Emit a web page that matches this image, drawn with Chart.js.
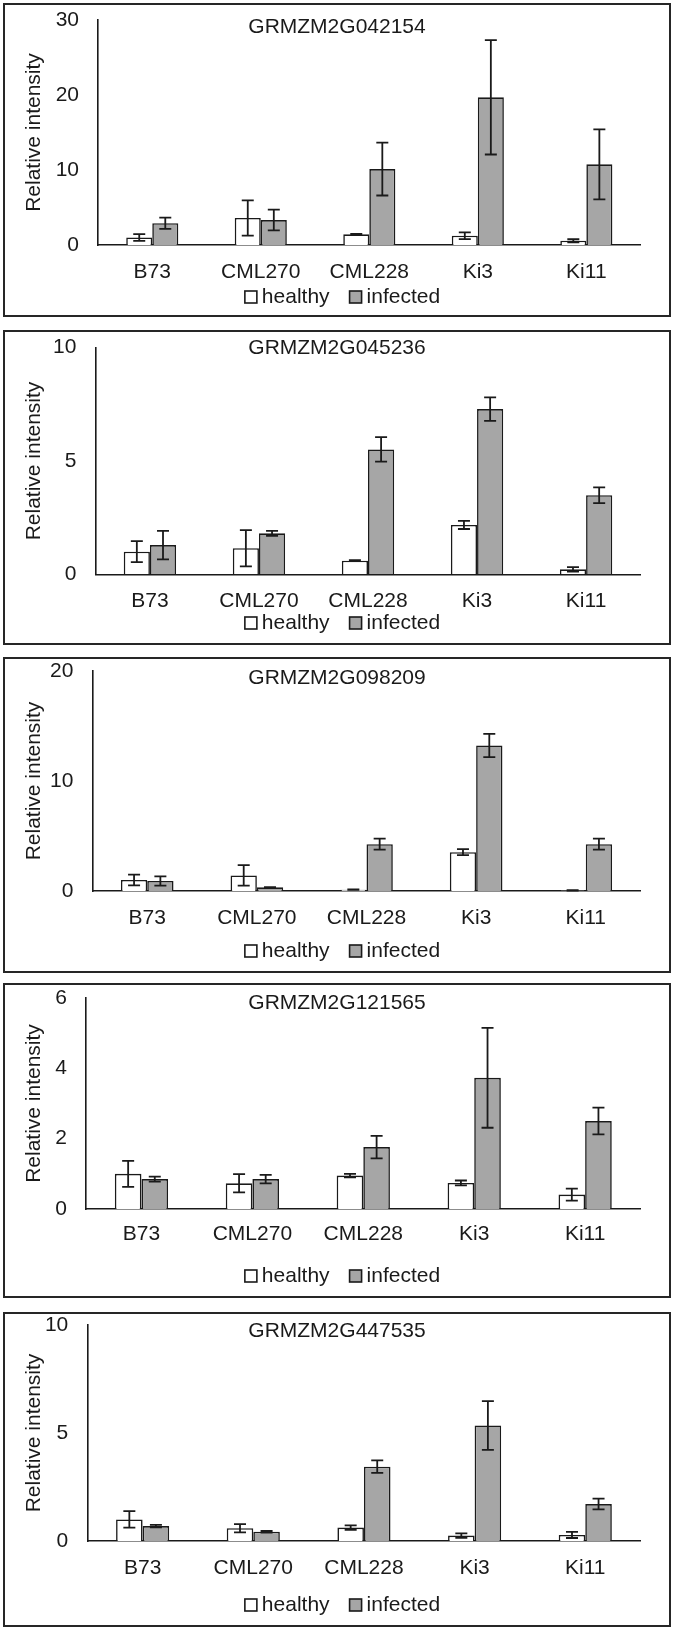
<!DOCTYPE html>
<html>
<head>
<meta charset="utf-8">
<title>Relative intensity</title>
<script src="https://cdn.jsdelivr.net/npm/chart.js@4.4.1/dist/chart.umd.min.js"></script>
<style>
  body { margin: 0; background: #fff; }
  #page { position: relative; width: 674px; height: 1630px; }
  .panel { position: absolute; left: 3px; width: 664px; border: 2px solid #262626; background: #fff; }
  .panel canvas { display: block; }
</style>
</head>
<body>
<div id="page"></div>
<script>
const categories = ['B73', 'CML270', 'CML228', 'Ki3', 'Ki11'];
const seriesNames = ['healthy', 'infected'];
const geneIds = ['GRMZM2G042154', 'GRMZM2G045236', 'GRMZM2G098209', 'GRMZM2G121565', 'GRMZM2G447535'];
const yMaxValues = [30, 10, 20, 6, 10];
const yStepValues = [10, 5, 10, 2, 5];

// GRMZM2G042154
const healthy042154 = [1.0, 3.6, 1.42, 1.24, 0.57];
const healthyErr042154 = [0.45, 2.36, 0.05, 0.45, 0.2];
const infected042154 = [2.9, 3.33, 10.13, 19.69, 10.76];
const infectedErr042154 = [0.75, 1.38, 3.53, 7.62, 4.67];

// GRMZM2G045236
const healthy045236 = [1.0, 1.15, 0.6, 2.18, 0.22];
const healthyErr045236 = [0.46, 0.8, 0.02, 0.18, 0.1];
const infected045236 = [1.29, 1.81, 5.51, 7.29, 3.49];
const infectedErr045236 = [0.63, 0.11, 0.54, 0.52, 0.35];

// GRMZM2G098209
const healthy098209 = [1.0, 1.42, 0.12, 3.53, 0.06];
const healthyErr098209 = [0.48, 0.94, 0.02, 0.27, 0.02];
const infected098209 = [0.91, 0.33, 4.26, 13.23, 4.26];
const infectedErr098209 = [0.42, 0.02, 0.5, 1.06, 0.5];

// GRMZM2G121565
const healthy121565 = [1.0, 0.73, 0.95, 0.74, 0.41];
const healthyErr121565 = [0.37, 0.26, 0.05, 0.07, 0.17];
const infected121565 = [0.85, 0.85, 1.76, 3.73, 2.5];
const infectedErr121565 = [0.07, 0.12, 0.32, 1.42, 0.38];

// GRMZM2G447535
const healthy447535 = [1.0, 0.59, 0.62, 0.25, 0.28];
const healthyErr447535 = [0.38, 0.19, 0.1, 0.1, 0.14];
const infected447535 = [0.69, 0.43, 3.44, 5.35, 1.71];
const infectedErr447535 = [0.06, 0.04, 0.29, 1.13, 0.25];

const panelData = [
    [healthy042154, healthyErr042154, infected042154, infectedErr042154],
    [healthy045236, healthyErr045236, infected045236, infectedErr045236],
    [healthy098209, healthyErr098209, infected098209, infectedErr098209],
    [healthy121565, healthyErr121565, infected121565, infectedErr121565],
    [healthy447535, healthyErr447535, infected447535, infectedErr447535]
];

// layout of each boxed panel (canvas coordinates inside the border)
const panelBoxes = [
    { top: 3,    height: 310, left: 93,   areaTop: 15,   areaBottom: 240,   labelY: 267, legendY: 292, titleY: 22 },
    { top: 330,  height: 311, left: 90.4, areaTop: 15.7, areaBottom: 242.3, labelY: 269, legendY: 291, titleY: 16 },
    { top: 657,  height: 312, left: 87.4, areaTop: 12,   areaBottom: 232,   labelY: 259, legendY: 292, titleY: 19 },
    { top: 983,  height: 311, left: 81,   areaTop: 13,   areaBottom: 224,   labelY: 249, legendY: 291, titleY: 18 },
    { top: 1312, height: 311, left: 82.3, areaTop: 11,   areaBottom: 227,   labelY: 254, legendY: 291, titleY: 17 }
];

const CANVAS_W = 664;
const AREA_RIGHT = 635.6;
const LEGEND_X = 337.5;
const FONT_SIZE = 21;
const FONT_FAMILY = "'Liberation Sans', Arial, sans-serif";
const INK = '#1a1a1a';

Chart.defaults.font.family = FONT_FAMILY;
Chart.defaults.font.size = FONT_SIZE;
Chart.defaults.color = INK;

const errorBars = {
    id: 'errorBars',
    afterDatasetsDraw(chart) {
        const ctx = chart.ctx;
        const yScale = chart.scales.y;
        ctx.save();
        ctx.strokeStyle = INK;
        ctx.lineWidth = 1.8;
        chart.data.datasets.forEach((ds, i) => {
            const meta = chart.getDatasetMeta(i);
            meta.data.forEach((bar, j) => {
                const v = ds.data[j];
                const e = ds.errors[j];
                const yTop = yScale.getPixelForValue(v + e);
                const yBot = yScale.getPixelForValue(Math.max(v - e, 0));
                ctx.beginPath();
                ctx.moveTo(bar.x, yTop);
                ctx.lineTo(bar.x, yBot);
                ctx.moveTo(bar.x - 6, yTop);
                ctx.lineTo(bar.x + 6, yTop);
                ctx.moveTo(bar.x - 6, yBot);
                ctx.lineTo(bar.x + 6, yBot);
                ctx.stroke();
            });
        });
        ctx.restore();
    }
};

// gene name drawn inside the plot, over the top of the axis
const geneTitle = {
    id: 'geneTitle',
    afterDraw(chart, args, opts) {
        const ctx = chart.ctx;
        ctx.save();
        ctx.font = FONT_SIZE + 'px ' + FONT_FAMILY;
        ctx.fillStyle = INK;
        ctx.textAlign = 'center';
        ctx.textBaseline = 'middle';
        ctx.fillText(opts.text, chart.width / 2, opts.y);
        ctx.restore();
    }
};

// small legend row under the category labels
const boxLegend = {
    id: 'boxLegend',
    afterDraw(chart, args, opts) {
        const ctx = chart.ctx;
        const box = 12, gap = 5, itemGap = 20;
        ctx.save();
        ctx.font = FONT_SIZE + 'px ' + FONT_FAMILY;
        ctx.textBaseline = 'middle';
        ctx.textAlign = 'left';
        const items = chart.data.datasets.map(ds => ({ ds, w: ctx.measureText(ds.label).width }));
        const total = items.reduce((s, it) => s + box + gap + it.w, 0) + itemGap * (items.length - 1);
        let x = opts.x - total / 2;
        items.forEach(it => {
            ctx.fillStyle = it.ds.backgroundColor;
            ctx.fillRect(x, opts.y - box / 2, box, box);
            ctx.strokeStyle = it.ds.borderColor;
            ctx.lineWidth = 1.6;
            ctx.strokeRect(x, opts.y - box / 2, box, box);
            ctx.fillStyle = INK;
            ctx.fillText(it.ds.label, x + box + gap, opts.y);
            x += box + gap + it.w + itemGap;
        });
        ctx.restore();
    }
};

function makePanel(k) {
    const box = panelBoxes[k];
    const [healthy, healthyErr, infected, infectedErr] = panelData[k];

    const div = document.createElement('div');
    div.className = 'panel';
    div.style.top = box.top + 'px';
    div.style.height = box.height + 'px';
    const canvas = document.createElement('canvas');
    canvas.width = CANVAS_W;
    canvas.height = box.height;
    div.appendChild(canvas);
    document.getElementById('page').appendChild(div);

    const padLeft = 13;
    const xTickPad = box.labelY - box.areaBottom - FONT_SIZE * 0.6;

    new Chart(canvas, {
        type: 'bar',
        data: {
            labels: categories,
            datasets: [
                { label: seriesNames[0], data: healthy, errors: healthyErr, backgroundColor: '#ffffff', borderColor: INK, borderWidth: 1.6 },
                { label: seriesNames[1], data: infected, errors: infectedErr, backgroundColor: '#a6a6a6', borderColor: INK, borderWidth: 1.6 }
            ]
        },
        options: {
            responsive: false,
            animation: false,
            datasets: { bar: { categoryPercentage: 0.48, barPercentage: 1.0 } },
            layout: { padding: { left: padLeft, right: CANVAS_W - AREA_RIGHT, top: box.areaTop, bottom: 0 } },
            scales: {
                x: {
                    grid: { display: false, drawTicks: false },
                    border: { display: true, color: INK, width: 1.6 },
                    ticks: { padding: xTickPad, font: { size: FONT_SIZE, lineHeight: 1.2 }, color: INK },
                    afterFit(s) { s.height = box.height - box.areaBottom; }
                },
                y: {
                    min: 0,
                    max: yMaxValues[k],
                    grid: { display: false, drawTicks: false },
                    border: { display: true, color: INK, width: 1.6 },
                    ticks: { stepSize: yStepValues[k], padding: 19, font: { size: FONT_SIZE, lineHeight: 1 }, color: INK },
                    title: { display: true, text: 'Relative intensity', font: { size: FONT_SIZE }, color: INK, padding: { top: 4, bottom: 4 } },
                    afterFit(s) {
                        s.width = box.left - padLeft;
                        // the top label fits inside the layout padding already
                        s.paddingTop = 0;
                        s.paddingBottom = 0;
                    }
                }
            },
            plugins: {
                legend: { display: false },
                tooltip: { enabled: false },
                geneTitle: { text: geneIds[k], y: box.titleY },
                boxLegend: { x: LEGEND_X, y: box.legendY }
            }
        },
        plugins: [errorBars, geneTitle, boxLegend]
    });
}

for (let k = 0; k < panelBoxes.length; k++) {
    makePanel(k);
}
</script>
</body>
</html>
